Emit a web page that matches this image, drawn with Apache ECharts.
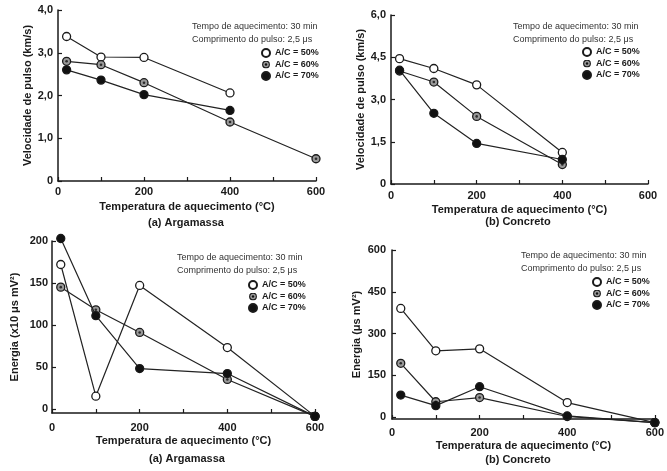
<!DOCTYPE html>
<html><head><meta charset="utf-8">
<script src="https://cdn.jsdelivr.net/npm/echarts@6/dist/echarts.min.js"></script>
<style>html,body{margin:0;padding:0;background:#fff}#c{width:667px;height:471px}</style>
</head><body><div id="c"></div>
<script>
// ---- data ----
const temps = [20, 100, 200, 400, 600];
const seriesNames = ['A/C = 50%', 'A/C = 60%', 'A/C = 70%'];
const xTickValues = [0, 100, 200, 300, 400, 500, 600];
const xLabelValues = [0, 200, 400, 600];

// (a) Argamassa - velocidade de pulso (km/s)
const velArg50 = [3.38, 2.90, 2.89, 2.06, null];
const velArg60 = [2.80, 2.72, 2.30, 1.38, 0.52];
const velArg70 = [2.60, 2.36, 2.02, 1.65, null];
const velArgTicks = [0, 1, 2, 3, 4];

// (b) Concreto - velocidade de pulso (km/s)
const velCon50 = [4.45, 4.10, 3.52, 1.12, null];
const velCon60 = [4.01, 3.62, 2.40, 0.69, null];
const velCon70 = [4.04, 2.51, 1.44, 0.87, null];
const velConTicks = [0, 1.5, 3, 4.5, 6];

// (a) Argamassa - energia (x10 μs mV²)
const enArg50 = [172, 15, 147, 73, -9];
const enArg60 = [145, 118, 91, 35, -9];
const enArg70 = [203, 111, 48, 42, -9];
const enArgTicks = [0, 50, 100, 150, 200];

// (b) Concreto - energia (μs mV²)
const enCon50 = [390, 238, 245, 52, -20];
const enCon60 = [193, 55, 70, 2, -20];
const enCon70 = [79, 41, 109, 4, -20];
const enConTicks = [0, 150, 300, 450, 600];

const headerText = 'Tempo de aquecimento: 30 min\nComprimento do pulso: 2,5 μs';

// ---- layout / style ----
const FONT = '"Liberation Sans", Arial, sans-serif';
const INK = '#1a1a1a';
const panels = [
  {grid:{left:58, top:10, width:258, height:171}, ymin:0, ymax:4, ticks:velArgTicks, dec:1,
   yname:'Velocidade de pulso (km/s)', ynameGap:24, lblMargin:5, xLblMargin:5, xNameGap:20,
   data:[velArg50, velArg60, velArg70], sub:'(a) Argamassa', subX:186, subY:217,
   head:{x:192, y:20}, leg:{x:261, y:48}},
  {grid:{left:391, top:15, width:257, height:169}, ymin:0, ymax:6, ticks:velConTicks, dec:1,
   yname:'Velocidade de pulso (km/s)', ynameGap:22, lblMargin:5, xLblMargin:6, xNameGap:20,
   data:[velCon50, velCon60, velCon70], sub:'(b) Concreto', subX:518, subY:216,
   head:{x:513, y:20}, leg:{x:582, y:47}},
  {grid:{left:52, top:241, width:263, height:172}, ymin:-5, ymax:200, ticks:enArgTicks, dec:0,
   yname:'Energia (x10 μs mV²)', ynameGap:32, lblMargin:4, xLblMargin:9, xNameGap:22,
   data:[enArg50, enArg60, enArg70], sub:'(a) Argamassa', subX:187, subY:453,
   head:{x:177, y:251}, leg:{x:248, y:280}},
  {grid:{left:392, top:250, width:263, height:169}, ymin:-7, ymax:600, ticks:enConTicks, dec:0,
   yname:'Energia (μs mV²)', ynameGap:30, lblMargin:6, xLblMargin:8, xNameGap:21,
   data:[enCon50, enCon60, enCon70], sub:'(b) Concreto', subX:518, subY:454,
   head:{x:521, y:249}, leg:{x:592, y:277}}
];

const fills = ['#ffffff', '#9a9a9a', '#111111'];
const dotIcon = 'image://data:image/svg+xml;utf8,' + encodeURIComponent(
  '<svg xmlns="http://www.w3.org/2000/svg" width="20" height="20">' +
  '<circle cx="10" cy="10" r="8.4" fill="#9a9a9a" stroke="#1a1a1a" stroke-width="2.8"/>' +
  '<circle cx="10" cy="10" r="3" fill="#111"/></svg>');

function fmt(v, dec) {
  if (v === 0) return '0';
  return dec ? v.toFixed(dec).replace('.', ',') : String(v);
}
function pts(vals) {
  return temps.map((t, i) => [t, vals[i]]).filter(p => p[1] !== null);
}

const option = {
  animation: false,
  backgroundColor: '#fff',
  textStyle: {fontFamily: FONT},
  grid: [], xAxis: [], yAxis: [], series: [], title: [], legend: []
};

panels.forEach((p, gi) => {
  option.grid.push(Object.assign({containLabel:false}, p.grid));
  option.xAxis.push({
    type:'value', gridIndex:gi, min:0, max:600,
    name:'Temperatura de aquecimento (°C)', nameLocation:'middle', nameGap:p.xNameGap,
    nameTextStyle:{fontSize:11, fontWeight:'bold', color:INK, fontFamily:FONT},
    axisLine:{show:true, onZero:false, lineStyle:{color:INK, width:1.5}},
    axisTick:{show:true, inside:true, length:4, customValues:xTickValues, lineStyle:{color:INK, width:1.2}},
    axisLabel:{customValues:xLabelValues, margin:p.xLblMargin, fontSize:11, fontWeight:'bold', color:INK, fontFamily:FONT},
    splitLine:{show:false}
  });
  option.yAxis.push({
    type:'value', gridIndex:gi, min:p.ymin, max:p.ymax,
    name:p.yname, nameLocation:'middle', nameGap:p.ynameGap,
    nameTextStyle:{fontSize:11, fontWeight:'bold', color:INK, fontFamily:FONT},
    axisLine:{show:true, onZero:false, lineStyle:{color:INK, width:1.5}},
    axisTick:{show:true, inside:true, length:4, customValues:p.ticks, lineStyle:{color:INK, width:1.2}},
    axisLabel:{customValues:p.ticks, margin:p.lblMargin, fontSize:11, fontWeight:'bold', color:INK, fontFamily:FONT,
      formatter:(v) => fmt(v, p.dec)},
    splitLine:{show:false}
  });
  p.data.forEach((vals, si) => {
    option.series.push({
      type:'line', name:seriesNames[si], xAxisIndex:gi, yAxisIndex:gi,
      data:pts(vals), symbol:'circle', symbolSize:8, clip:false, z:2 + si,
      lineStyle:{color:'#222', width:1.2},
      itemStyle:{color:fills[si], borderColor:INK, borderWidth:1.3}
    });
  });
  // centre dot of the A/C = 60% markers
  option.series.push({
    type:'scatter', xAxisIndex:gi, yAxisIndex:gi, data:pts(p.data[1]),
    symbolSize:2.6, clip:false, silent:true, z:10, itemStyle:{color:'#111'}
  });
  option.title.push({
    text:p.sub, left:p.subX, top:p.subY, textAlign:'center', padding:0,
    textStyle:{fontSize:11, fontWeight:'bold', color:INK, fontFamily:FONT}
  });
  option.title.push({
    text:headerText, left:p.head.x, top:p.head.y, padding:0,
    textStyle:{fontSize:9, fontWeight:'normal', color:'#333', lineHeight:13, fontFamily:FONT}
  });
  option.legend.push({
    orient:'vertical', left:p.leg.x, top:p.leg.y, padding:0,
    itemWidth:8, itemHeight:8, itemGap:1.5, selectedMode:false,
    textStyle:{fontSize:9, fontWeight:'bold', color:INK, lineHeight:10, fontFamily:FONT},
    data:[{name:seriesNames[0], icon:'circle'}, {name:seriesNames[1], icon:dotIcon}, {name:seriesNames[2], icon:'circle'}]
  });
});

const chart = echarts.init(document.getElementById('c'), null, {renderer:'canvas'});
chart.setOption(option);
</script>
</body></html>
